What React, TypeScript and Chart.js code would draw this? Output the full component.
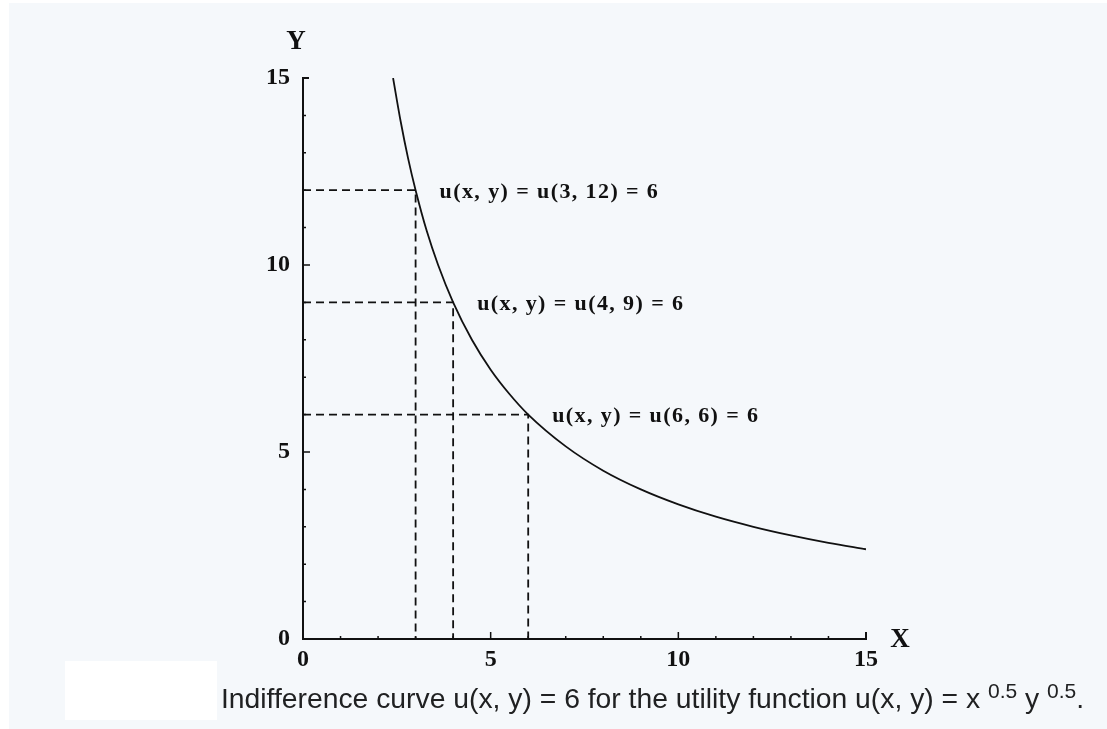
import React, { useEffect, useRef } from "react";
import { Chart, registerables } from "chart.js";

Chart.register(...registerables);

// Indifference curve u(x, y) = 6
const curveX = [2.4, 2.6, 2.8, 3, 3.3, 3.6, 4, 4.5, 5, 5.5, 6, 7, 8, 9, 10, 11, 12, 13, 14, 15];
const curveY = [15, 13.85, 12.85, 12, 10.9, 10, 9, 8, 7.2, 6.55, 6, 5.15, 4.5, 4, 3.6, 3.27, 3, 2.77, 2.57, 2.4];

// Highlighted bundles on the curve
const bundleX = [3, 4, 6];
const bundleY = [12, 9, 6];
const bundleLabels = ["u(x, y) = u(3, 12) = 6", "u(x, y) = u(4, 9) = 6", "u(x, y) = u(6, 6) = 6"];

const axisMin = 0;
const axisMax = 15;
const majorStep = 5;
const xTitle = "X";
const yTitle = "Y";

const SERIF = "'Liberation Serif', 'Times New Roman', serif";

const axesPlugin = {
  id: "axesAndLabels",
  afterDatasetsDraw(chart: any) {
    const { ctx } = chart;
    const xs = chart.scales.x;
    const ys = chart.scales.y;
    const x0 = xs.getPixelForValue(axisMin);
    const x1 = xs.getPixelForValue(axisMax);
    const y0 = ys.getPixelForValue(axisMin);
    const y1 = ys.getPixelForValue(axisMax);
    ctx.save();
    ctx.strokeStyle = "#111";
    ctx.lineWidth = 2;
    ctx.setLineDash([]);
    ctx.beginPath();
    ctx.moveTo(x0 + 6, y1);
    ctx.lineTo(x0, y1);
    ctx.lineTo(x0, y0);
    ctx.lineTo(x1, y0);
    ctx.lineTo(x1, y0 - 7);
    ctx.stroke();
    ctx.lineWidth = 1.5;
    ctx.beginPath();
    for (let v = axisMin + 1; v < axisMax; v++) {
      const len = v % majorStep === 0 ? 7 : 3;
      const px = xs.getPixelForValue(v);
      ctx.moveTo(px, y0);
      ctx.lineTo(px, y0 - len);
      const py = ys.getPixelForValue(v);
      ctx.moveTo(x0, py);
      ctx.lineTo(x0 + len, py);
    }
    ctx.stroke();

    // axis titles
    ctx.fillStyle = "#111";
    ctx.font = `bold 27px ${SERIF}`;
    ctx.textAlign = "center";
    ctx.textBaseline = "middle";
    ctx.fillText(yTitle, x0 - 7, y1 - 36);
    ctx.fillText(xTitle, x1 + 34, y0 + 1);

    // bundle labels
    ctx.font = `bold 22px ${SERIF}`;
    (ctx as any).letterSpacing = "1.4px";
    ctx.textAlign = "left";
    for (let i = 0; i < bundleX.length; i++) {
      const px = xs.getPixelForValue(bundleX[i]);
      const py = ys.getPixelForValue(bundleY[i]);
      ctx.fillText(bundleLabels[i], px + 24, py + 2);
    }
    (ctx as any).letterSpacing = "0px";
    ctx.restore();
  },
};

export default function App() {
  const canvasRef = useRef<HTMLCanvasElement | null>(null);

  useEffect(() => {
    if (!canvasRef.current) return;
    const guides = bundleX.map((bx, i) => ({
      data: [
        { x: axisMin, y: bundleY[i] },
        { x: bx, y: bundleY[i] },
        { x: bx, y: axisMin },
      ],
      borderColor: "#111",
      borderWidth: 1.8,
      borderDash: [8, 5],
      pointRadius: 0,
      tension: 0,
      fill: false,
    }));
    const chart = new Chart(canvasRef.current, {
      type: "line",
      data: {
        datasets: [
          {
            data: curveX.map((x, i) => ({ x, y: curveY[i] })),
            borderColor: "#111",
            borderWidth: 1.8,
            pointRadius: 0,
            cubicInterpolationMode: "monotone",
            fill: false,
          },
          ...guides,
        ],
      },
      options: {
        responsive: false,
        animation: false,
        events: [],
        layout: { padding: { left: 263, top: 78, right: 241, bottom: 60 } },
        plugins: { legend: { display: false }, tooltip: { enabled: false } },
        scales: {
          x: {
            type: "linear",
            min: axisMin,
            max: axisMax,
            grid: { display: false, drawTicks: false },
            border: { display: false },
            ticks: {
              stepSize: majorStep,
              padding: 6,
              color: "#111",
              font: { family: SERIF, size: 24, weight: "bold" },
              maxRotation: 0,
            },
            afterFit: (s: any) => {
              s.height = 30;
            },
          },
          y: {
            type: "linear",
            min: axisMin,
            max: axisMax,
            grid: { display: false, drawTicks: false },
            border: { display: false },
            ticks: {
              stepSize: majorStep,
              padding: 13,
              color: "#111",
              font: { family: SERIF, size: 24, weight: "bold" },
            },
            afterFit: (s: any) => {
              s.width = 40;
            },
          },
        },
      },
      plugins: [axesPlugin],
    } as any);
    return () => chart.destroy();
  }, []);

  return (
    <div
      style={{
        position: "fixed",
        left: 0,
        top: 0,
        width: 1107,
        height: 729,
        background: "#ffffff",
        overflow: "hidden",
      }}
    >
      <div
        style={{
          position: "absolute",
          left: 9,
          top: 3,
          width: 1098,
          height: 726,
          background: "#f5f8fb",
        }}
      />
      <canvas
        ref={canvasRef}
        width={1107}
        height={729}
        style={{ position: "absolute", left: 0, top: 0, width: 1107, height: 729 }}
      />
      <div
        style={{
          position: "absolute",
          left: 65,
          top: 661,
          width: 152,
          height: 59,
          background: "#ffffff",
        }}
      />
      <div
        style={{
          position: "absolute",
          left: 221,
          top: 682,
          fontFamily: "'Liberation Sans', Arial, sans-serif",
          fontSize: 28.3,
          lineHeight: "32px",
          color: "#202122",
          whiteSpace: "nowrap",
        }}
      >
        Indifference curve u(x, y) = 6 for the utility function u(x, y) = x{" "}
        <sup style={{ fontSize: 21, lineHeight: 0 }}>0.5</sup> y{" "}
        <sup style={{ fontSize: 21, lineHeight: 0 }}>0.5</sup>.
      </div>
    </div>
  );
}
